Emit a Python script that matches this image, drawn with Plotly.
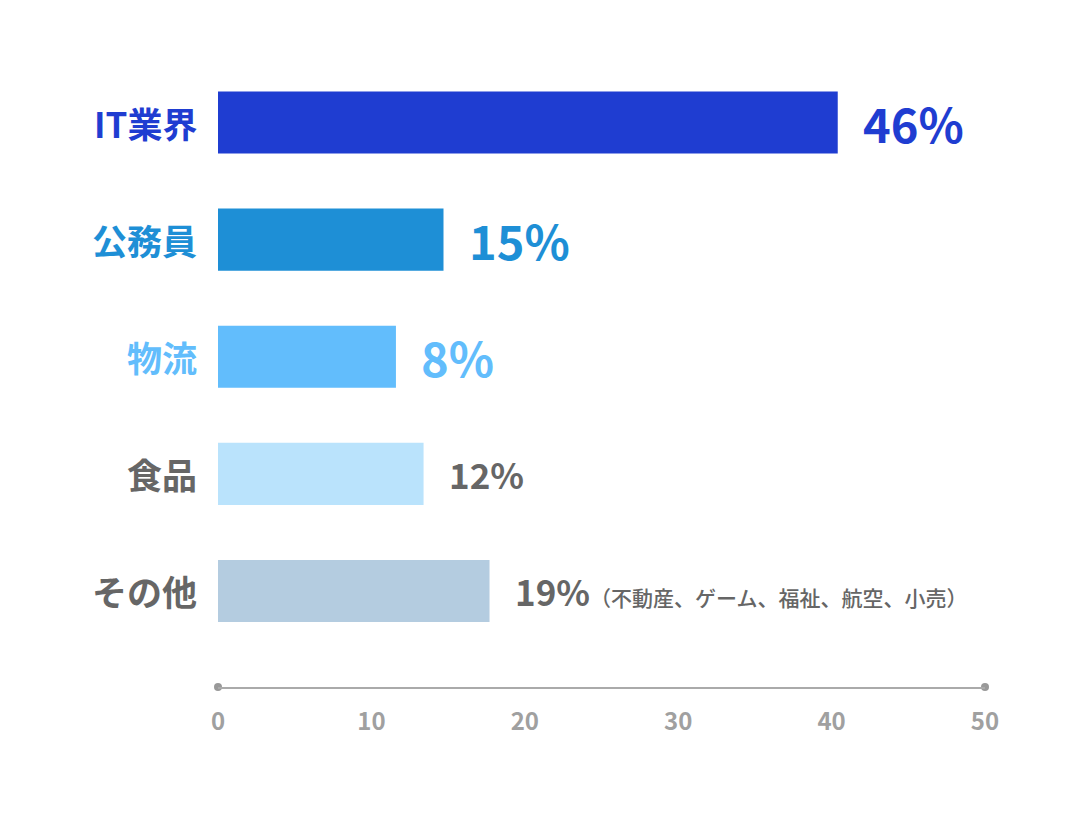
import plotly.graph_objects as go

categories = ["IT業界", "公務員", "物流", "食品", "その他"]
bar_values = [40.4, 14.7, 11.6, 13.4, 17.7]
value_labels = ["46%", "15%", "8%", "12%", "19%"]
label_notes = ["", "", "", "", "（不動産、ゲーム、福祉、航空、小売）"]
bar_colors = ["#1f3dd1", "#1e8fd6", "#62bdfc", "#bae3fc", "#b4cce0"]
text_colors = ["#1f3dd1", "#1e8fd6", "#62bdfc", "#666666", "#666666"]
value_font_sizes = [47, 47, 47, 35, 35]
x_ticks = [0, 10, 20, 30, 40, 50]

FONT = "Noto Sans CJK JP"
pos = list(range(len(categories)))
y_range = [4.82, -0.5]

fig = go.Figure()
fig.add_trace(go.Bar(
    x=bar_values, y=pos, orientation="h", width=0.53,
    marker=dict(color=bar_colors, line=dict(width=0)),
    hoverinfo="skip",
))
# end dots of the axis line
fig.add_trace(go.Scatter(
    x=[x_ticks[0], x_ticks[-1]], y=[y_range[0], y_range[0]], mode="markers",
    marker=dict(color="#999999", size=8), cliponaxis=False, hoverinfo="skip",
))

ann = []
for i, c in enumerate(categories):
    ann.append(dict(x=0, y=i, xref="x", yref="y", text=c, showarrow=False,
                    xanchor="right", yanchor="middle", xshift=-19,
                    font=dict(family=FONT, size=35, color=text_colors[i], weight=700)))
    txt = value_labels[i]
    if label_notes[i]:
        txt += "<span style='font-size:21px;font-weight:500'>" + label_notes[i] + "</span>"
    ann.append(dict(x=bar_values[i], y=i, xref="x", yref="y", text=txt, showarrow=False,
                    xanchor="left", yanchor="middle", xshift=23,
                    font=dict(family=FONT, size=value_font_sizes[i], color=text_colors[i], weight=700)))

fig.update_layout(
    width=1086, height=820,
    margin=dict(l=218, r=101, t=64, b=133),
    paper_bgcolor="white", plot_bgcolor="white",
    showlegend=False,
    annotations=ann,
    xaxis=dict(range=[x_ticks[0], x_ticks[-1]], tickvals=x_ticks, showgrid=False, zeroline=False,
               showline=True, linecolor="#aaaaaa", linewidth=2, ticks="", ticklen=0,
               ticklabelstandoff=12,
               tickfont=dict(family=FONT, size=24, color="#a0a0a0", weight=700)),
    yaxis=dict(range=y_range, showgrid=False, zeroline=False, showticklabels=False, showline=False),
)
fig.write_html("out.html")
